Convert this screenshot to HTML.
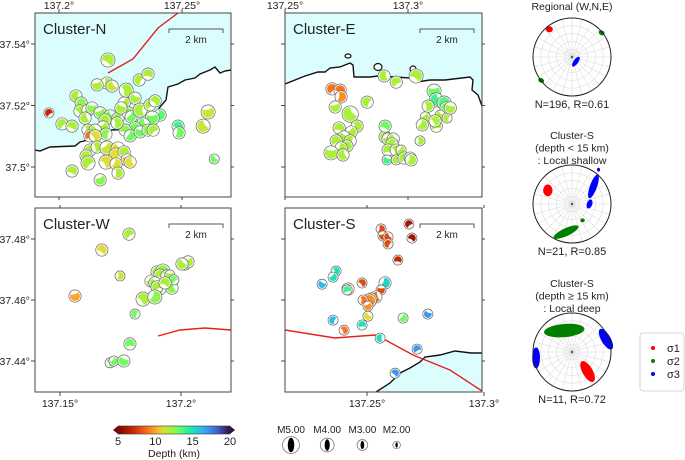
<!DOCTYPE html>
<html><head><meta charset="utf-8"><style>
body{margin:0;background:#fff;width:685px;height:460px;overflow:hidden}
svg{display:block;font-family:"Liberation Sans",sans-serif}
</style></head><body>
<svg id="fig" width="685" height="460" viewBox="0 0 685 460">
<g id="layer"></g>
</svg>
<script>
// ---- Cluster-N data ----
const nLon=[137.1959,137.2199,137.2195,137.2155,137.2216,137.2326,137.2362,137.2273,137.2265,137.2309,137.2069,137.2090,137.2085,137.2118,137.2134,137.2106,137.2012,137.2053,137.2118,137.2167,137.2208,137.2240,137.2187,137.2281,137.2293,137.2252,137.2330,137.2370,137.2391,137.2411,137.2379,137.2342,137.2309,137.2269,137.2236,137.2179,137.2147,137.2191,137.2126,137.2147,137.2289,137.2330,137.2362,137.2383,137.2484,137.2488,137.2606,137.2586,137.2126,137.2110,137.2155,137.2195,137.2240,137.2232,137.2265,137.2191,137.2232,137.2277,137.2289,137.2118,137.2053,137.2240,137.2167,137.2631];
const nLat=[37.5176,37.5348,37.5273,37.5267,37.5263,37.5283,37.5302,37.5250,37.5208,37.5224,37.5231,37.5208,37.5182,37.5185,37.5192,37.5159,37.5140,37.5133,37.5120,37.5176,37.5163,37.5159,37.5153,37.5176,37.5163,37.5192,37.5185,37.5202,37.5215,37.5169,37.5159,37.5137,37.5127,37.5120,37.5143,37.5130,37.5120,37.5107,37.5101,37.5101,37.5101,37.5114,37.5120,37.5120,37.5133,37.5111,37.5179,37.5133,37.5055,37.5036,37.5065,37.5062,37.5059,37.5039,37.5049,37.5016,37.5010,37.5023,37.5016,37.5013,37.4987,37.4980,37.4958,37.5026];
const nDep=[7,12,12,12,11.5,12,12,12,12,12,12,12.5,12,13,12.5,12,12,12,12,12.5,13,12.5,12,12.5,13,12,12,12,12,13.5,13,13,13,12.5,12,12,12,12.5,9,11,13,13,12.5,12,14,13,11.5,11.5,12,12,12,11.5,11,11,12,11,11,10.5,11,12,12,12,12.5,13];
const nMag=[3.0,4.3,3.7,3.7,3.7,3.7,3.7,4.3,3.7,3.7,3.7,3.7,3.7,3.7,3.7,3.7,3.7,3.7,3.7,3.7,4.3,3.7,3.7,3.7,3.7,3.7,4.3,3.7,3.7,3.7,4.3,4.3,3.7,3.7,3.7,3.7,3.7,3.7,3.7,3.7,3.7,3.7,3.7,3.7,3.7,3.7,4.3,4.3,3.7,3.7,3.7,4.3,4.3,4.3,3.7,4.3,3.7,3.7,3.7,4.3,3.7,3.7,3.7,3.0];
// ---- Cluster-E data ----
const eLon=[137.2691,137.2724,137.2728,137.2704,137.2765,137.2834,137.2720,137.2793,137.2769,137.2740,137.2765,137.2708,137.2752,137.2728,137.2687,137.2736,137.2907,137.2907,137.3049,137.2919,137.2940,137.2935,137.2919,137.2952,137.2972,137.2915,137.2952,137.2984,137.3009,137.3013,137.3106,137.3115,137.3147,137.3155,137.3082,137.3070,137.3131,137.3159,137.3115,137.3110,137.3058,137.3172,137.2903,137.2952,137.3033];
const eLat=[37.5254,37.5250,37.5228,37.5195,37.5172,37.5211,37.5127,37.5133,37.5114,37.5098,37.5085,37.5085,37.5068,37.5062,37.5046,37.5039,37.5098,37.5133,37.5085,37.5091,37.5091,37.5075,37.5055,37.5055,37.5055,37.5023,37.5023,37.5029,37.5029,37.5023,37.5247,37.5218,37.5208,37.5192,37.5198,37.5163,37.5169,37.5159,37.5133,37.5150,37.5137,37.5192,37.5296,37.5276,37.5296];
const eDep=[9,9,9.5,12,12,12,12,12,12,12,12,12,12,12,12,12,12,13,12,12,12,12,12,12,12,14,12,12,12,12,13,14,13.5,13,12,12,12,12,12,12,12,12,12,12,12];
const eMag=[3.7,3.7,3.7,3.7,5.0,3.7,3.7,3.7,3.7,3.7,3.7,3.7,3.7,3.7,4.3,3.7,3.7,3.7,3.0,3.7,3.7,3.7,3.7,3.7,3.0,3.0,3.0,3.7,3.7,3.7,4.3,4.3,4.3,3.7,3.7,3.0,3.0,3.0,3.7,3.7,3.7,3.7,3.7,3.7,4.3];
// ---- Cluster-W data ----
const wLon=[137.1785,137.1673,137.1748,137.1562,137.1901,137.1925,137.1913,137.1942,137.1876,137.1892,137.1913,137.1901,137.1843,137.1892,137.1954,137.1963,137.1971,137.1934,137.2016,137.2029,137.2004,137.1810,137.1789,137.1707,137.1723,137.1764];
const wLat=[37.4816,37.4764,37.4679,37.4613,37.4692,37.4695,37.4682,37.4679,37.4662,37.4656,37.4636,37.4643,37.4603,37.4610,37.4682,37.4639,37.4666,37.4656,37.4718,37.4725,37.4718,37.4554,37.4456,37.4394,37.4400,37.4400];
const wDep=[12,11,11.5,10,12,12.5,12,12,12,12.5,12,12,12,12.5,12,12.5,13,12,12,12,12,13,13,13,13,13];
const wMag=[3.7,3.7,3.0,3.7,3.7,4.3,3.7,3.7,3.7,3.7,3.7,3.7,4.3,4.3,3.0,3.7,3.0,3.7,3.7,3.7,3.7,3.0,3.7,3.0,3.0,3.7];
// ---- Cluster-S data ----
const sLon=[137.2679,137.2692,137.2560,137.2568,137.2590,137.2590,137.2632,137.2368,137.2355,137.2308,137.2419,137.2415,137.2479,137.2577,137.2560,137.2538,137.2517,137.2509,137.2483,137.2504,137.2504,137.2355,137.2479,137.2402,137.2654,137.2760,137.2556,137.2714,137.2620];
const sLat=[37.4849,37.4803,37.4833,37.4810,37.4807,37.4784,37.4731,37.4695,37.4675,37.4652,37.4636,37.4633,37.4656,37.4656,37.4633,37.4610,37.4603,37.4597,37.4600,37.4580,37.4547,37.4534,37.4518,37.4501,37.4541,37.4554,37.4475,37.4439,37.4360];
const sDep=[6,6,8,8,8,8,7,15,15,16,9,14,8,15.5,8,9,9,9.5,9,9.5,11,16,15,9,13,17,15,17,17];
const sMag=[3.0,3.0,3.0,3.0,3.0,3.0,3.0,3.0,3.0,3.0,3.7,3.0,3.0,3.7,3.0,3.7,3.7,4.3,3.0,3.0,3.0,3.0,3.0,3.0,3.0,3.0,3.0,3.0,3.0];
// colorbar / magnitude legend
const cbTicks=[5,10,15,20];
const magLegend=[5,4,3,2];
// stereonet blobs [x,y,rx,ry,rotDeg] in unit-circle coords
const regS1=[[-0.58,-0.71,0.09,0.08,0]];
const regS2=[[0.76,-0.62,0.08,0.06,30],[-0.79,0.60,0.08,0.06,30]];
const regS3=[[0.1,0.12,0.06,0.15,35]];
const shS1=[[-0.62,-0.35,0.12,0.15,0]];
const shS2=[[-0.15,0.72,0.35,0.1,-25],[0.27,0.42,0.06,0.05,0]];
const shS3=[[0.55,-0.45,0.09,0.32,20],[0.45,0.0,0.07,0.12,20],[0.68,-0.88,0.04,0.05,0]];
const dpS1=[[0.4,0.5,0.13,0.3,-30]];
const dpS2=[[-0.2,-0.55,0.52,0.17,-5]];
const dpS3=[[0.87,-0.33,0.12,0.3,-30],[-0.92,0.15,0.1,0.27,0]];
</script>
<script>
const NS='http://www.w3.org/2000/svg';
const root=document.getElementById('layer');
function mk(tag,attrs,parent){const e=document.createElementNS(NS,tag);for(const k in attrs)e.setAttribute(k,attrs[k]);(parent||root).appendChild(e);return e;}
function txt(s,x,y,size,anchor,parent){const t=mk('text',{x:x,y:y,'font-size':size,'text-anchor':anchor||'start',fill:'#222'},parent);t.textContent=s;return t;}
const turbo=[[0,'#7a0403'],[0.13,'#c42503'],[0.23,'#f05b12'],[0.32,'#fe9b2d'],[0.4,'#e1dd37'],[0.47,'#a8f03c'],[0.55,'#62fc6b'],[0.66,'#1ae4b6'],[0.77,'#35abf8'],[0.88,'#4662d7'],[1,'#30123b']];
function hex(h){return [1,3,5].map(i=>parseInt(h.substr(i,2),16));}
function depthColor(d){let t=Math.max(0,Math.min(1,(d-5)/15));for(let i=1;i<turbo.length;i++){if(t<=turbo[i][0]){const a=turbo[i-1],b=turbo[i];const f=(t-a[0])/(b[0]-a[0]);const A=hex(a[1]),B=hex(b[1]);return 'rgb('+A.map((v,j)=>Math.round(v+(B[j]-v)*f)).join(',')+')';}}return turbo[turbo.length-1][1];}
function magR(m){return 1.55*m-0.8;}
function ball(g,x,y,r,color,k){
  mk('circle',{cx:x,cy:y,r:r+1.2,fill:'#fff',stroke:'#666','stroke-width':0.7},g);
  mk('circle',{cx:x,cy:y,r:r,fill:color},g);
  const a=(k*67)%360*Math.PI/180, b=a+1.9;
  const p=(ang)=>[x+r*Math.cos(ang),y+r*Math.sin(ang)];
  const [x1,y1]=p(a),[x2,y2]=p(b);
  const m=(a+b)/2;
  const [cx,cy]=[x+r*0.15*Math.cos(m),y+r*0.15*Math.sin(m)];
  mk('path',{d:`M${x1},${y1} A${r},${r} 0 0 1 ${x2},${y2} Q${cx},${cy} ${x1},${y1}Z`,fill:'#fff'},g);
}
function panel(name,box,xs,ys,lonArr,latArr,depArr,magArr,xticks,yticks,xTop,features){
  const g=mk('g',{});
  
  
  const [L,T,R,B]=box;
  const clipId='clip'+name;
  const cp=mk('clipPath',{id:clipId},g);mk('rect',{x:L,y:T,width:R-L,height:B-T},cp);
  const inner=mk('g',{'clip-path':`url(#${clipId})`},g);
  mk('rect',{x:L,y:T,width:R-L,height:B-T,fill:'#fff'},inner);
  features(inner);
  for(let i=0;i<lonArr.length;i++){
    const bg=mk('g',{},inner);
    
    
    ball(bg,xs(lonArr[i]),ys(latArr[i]),magR(magArr[i]),depthColor(depArr[i]),i);
  }
  mk('rect',{x:L,y:T,width:R-L,height:B-T,fill:'none',stroke:'#444','stroke-width':1},g);
  xticks.forEach(v=>{const x=xs(v);
    if(xTop){mk('line',{x1:x,y1:T,x2:x,y2:T-4,stroke:'#444'},g);mk('line',{x1:x,y1:B,x2:x,y2:B+3,stroke:'#444'},g);
      const t=txt(v+'°',x,9,10.5,'middle',g);}
    else{mk('line',{x1:x,y1:B,x2:x,y2:B+4,stroke:'#444'},g);mk('line',{x1:x,y1:T,x2:x,y2:T-3,stroke:'#444'},g);
      const t=txt(v+'°',x,407,10.5,'middle',g);}
  });
  yticks.forEach(v=>{const y=ys(v);mk('line',{x1:L,y1:y,x2:L-4,y2:y,stroke:'#444'},g);mk('line',{x1:R,y1:y,x2:R+3,y2:y,stroke:'#444'},g);
    if(L<100){const t=txt(v+'°',L-5,y+4,10.5,'end',g);}
  });
  const tt=txt(name,L+8,T+21,15,'start',g);
  
  const sb=mk('g',{},g);
  
  mk('path',{d:`M${R-62},${T+20}V${T+16}H${R-8}V${T+20}`,fill:'none',stroke:'#555','stroke-width':1},sb);
  txt('2 km',R-35,T+30,10,'middle',sb);
}
const land='#dcfdfd';
panel('Cluster-N',[35,13,231,197],
  lon=>59+(lon-137.2)*2460, lat=>167-(lat-37.5)*3075,
  nLon,nLat,nDep,nMag,[137.2,137.25],[37.54,37.52,37.5],true,g=>{
   const pts='35,150 40,151 50,147 75,146 80,142 92,139 97,136 103,133 112,130 135,129 150,121 160,107 166,100 168,87 178,84 185,80 195,78 200,74 210,70 215,67 220,73 225,71 231,70';
   const s=mk('polygon',{points:'35,13 231,13 '+pts.split(' ').reverse().join(' '),fill:land},g);
   
   const c=mk('polyline',{points:pts,fill:'none',stroke:'#111','stroke-width':1.4},g);
   
   const f=mk('polyline',{points:'108,73 133,59 158,28 178,13',fill:'none',stroke:'#e8201a','stroke-width':1.4},g);
   
  });
panel('Cluster-E',[285,13,482,197],
  lon=>285+(lon-137.25)*2460, lat=>167-(lat-37.5)*3075,
  eLon,eLat,eDep,eMag,[137.25,137.3],[37.54,37.52,37.5],true,g=>{
   const pts='285,84 295,80 305,76 318,72 325,72 330,68 340,67 345,65 350,63 353,65 354,77 370,77 378,76 396,77 410,78 417,82 430,80 445,80 470,77 473,80 472,90 478,95 482,106';
   const s=mk('polygon',{points:'285,13 482,13 '+pts.split(' ').reverse().join(' '),fill:land},g);
   
   const c=mk('polyline',{points:pts,fill:'none',stroke:'#111','stroke-width':1.4},g);
   
   [[348,56,3,2],[378,67,4,3.5],[413,69,3,3]].forEach(a=>mk('ellipse',{cx:a[0],cy:a[1],rx:a[2],ry:a[3],fill:'#fff',stroke:'#111','stroke-width':1.2},g));
  });
panel('Cluster-W',[35,208,231,392],
  lon=>60+(lon-137.15)*2420, lat=>239+(37.48-lat)*3050,
  wLon,wLat,wDep,wMag,[137.15,137.2],[37.48,37.46,37.44],false,g=>{
   const f=mk('polyline',{points:'158,336 180,330 205,328 231,330',fill:'none',stroke:'#e8201a','stroke-width':1.4},g);
   
  });
panel('Cluster-S',[285,208,482,392],
  lon=>367+(lon-137.25)*2340, lat=>239+(37.48-lat)*3050,
  sLon,sLat,sDep,sMag,[137.25,137.3],[37.48,37.46,37.44],false,g=>{
   const pts='376,392 390,383 400,373 410,368 420,362 425,357 440,355 455,351 471,353 482,353';
   const s=mk('polygon',{points:pts+' 482,392',fill:land},g);
   
   const c=mk('polyline',{points:pts,fill:'none',stroke:'#111','stroke-width':1.4},g);
   
   const f=mk('polyline',{points:'285,330 335,338 375,335 380,337 413,355 450,370 482,391',fill:'none',stroke:'#e8201a','stroke-width':1.4},g);
   
  });
(function(){
  const g=mk('g',{});
  
  const L=118,R=230,T=426,B=434;
  const grad=mk('linearGradient',{id:'cbg',x1:0,x2:1,y1:0,y2:0},g);
  for(let i=0;i<=20;i++){mk('stop',{offset:i/20,'stop-color':depthColor(5+15*i/20)},grad);}
  mk('rect',{x:L,y:T,width:R-L,height:B-T,fill:'url(#cbg)',stroke:'#333','stroke-width':0.6},g);
  mk('polygon',{points:`${L},${T} ${L-5},${(T+B)/2} ${L},${B}`,fill:depthColor(5)},g);
  mk('polygon',{points:`${R},${T} ${R+5},${(T+B)/2} ${R},${B}`,fill:depthColor(20)},g);
  const x=v=>L+(v-5)/15*(R-L);
  cbTicks.forEach(v=>{txt(String(v),x(v),445,11,'middle',g);});
  txt('Depth (km)',(L+R)/2,457,10.5,'middle',g);
})();
(function(){
  const g=mk('g',{});
  
  const xs=m=>291+(5-m)*36.7-(5-m)*(5-m)*0.5;
  magLegend.forEach(m=>{const x=xs(m),r=magR(m)+0.3;
    txt('M'+m.toFixed(2),x,433,10,'middle',g);
    mk('circle',{cx:x,cy:445,r:r+1.2,fill:'#fff',stroke:'#666','stroke-width':0.7},g);
    mk('ellipse',{cx:x,cy:445,rx:r*0.45,ry:r,fill:'#000'},g);
  });
})();
function stereo(name,cx,cy,titles,ty,foot,s1,s2,s3){
  const g=mk('g',{});
  
  const r=39;
  titles.forEach((t,i)=>txt(t,cx,ty+i*12.5,10.5,'middle',g));
  mk('circle',{cx:cx,cy:cy,r:r,fill:'#fff'},g);
  for(let k=1;k<5;k++)mk('circle',{cx:cx,cy:cy,r:r*k/5,fill:'none',stroke:'#ddd','stroke-width':0.6},g);
  for(let a=0;a<360;a+=15){const t=a*Math.PI/180;mk('line',{x1:cx,y1:cy,x2:cx+r*Math.cos(t),y2:cy+r*Math.sin(t),stroke:'#ddd','stroke-width':0.6},g);}
  const draw=(arr,col)=>arr.forEach(b=>mk('ellipse',{cx:cx+b[0]*r,cy:cy+b[1]*r,rx:b[2]*r,ry:b[3]*r,fill:col,transform:`rotate(${b[4]} ${cx+b[0]*r} ${cy+b[1]*r})`},g));
  draw(s1,'#ff0000');draw(s2,'#008000');draw(s3,'#0000ff');
  mk('circle',{cx:cx,cy:cy,r:r,fill:'none',stroke:'#222','stroke-width':1},g);
  mk('circle',{cx:cx,cy:cy,r:1.2,fill:'#555'},g);
  txt(foot,cx,cy+r+12,11,'middle',g);
}
stereo('stereonet-regional',572,57,['Regional (W,N,E)'],10,'N=196, R=0.61',regS1,regS2,regS3);
stereo('stereonet-shallow',572,204,['Cluster-S','(depth < 15 km)',': Local shallow'],139,'N=21, R=0.85',shS1,shS2,shS3);
stereo('stereonet-deep',572,352,['Cluster-S','(depth \u2265 15 km)',': Local deep'],287,'N=11, R=0.72',dpS1,dpS2,dpS3);
(function(){
  const g=mk('g',{});
  
  mk('rect',{x:640,y:333,width:44,height:58,rx:3,fill:'#fff',stroke:'#ccc','stroke-width':0.8},g);
  [['σ1','#ff0000',348],['σ2','#008000',361],['σ3','#0000ff',374]].forEach(e=>{
    mk('circle',{cx:653,cy:e[2],r:2,fill:e[1]},g);txt(e[0],667,e[2]+4,11,'start',g);});
})();
</script>
</body></html>
